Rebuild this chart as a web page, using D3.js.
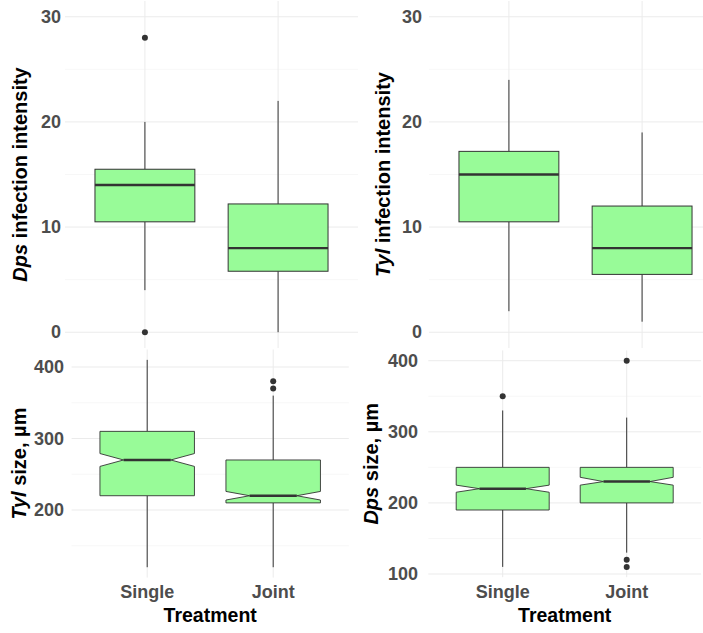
<!DOCTYPE html>
<html>
<head>
<meta charset="utf-8">
<script src="https://cdn.jsdelivr.net/npm/d3@7"></script>
<style>
  html, body { margin: 0; padding: 0; background: #fff; }
  svg { display: block; font-family: "Liberation Sans", Arial, sans-serif; }
</style>
</head>
<body>
<svg id="chart" width="703" height="633"></svg>
<script>
// ---------------- data ----------------
const categories = ["Single", "Joint"];

// [lower whisker, Q1, median, Q3, upper whisker] per category
const dpsIntensityBox = [[4, 10.5, 14, 15.5, 20], [0, 5.8, 8, 12.2, 22]];
const dpsIntensityOutliers = [[28, 0], []];

const tylIntensityBox = [[2, 10.5, 15, 17.2, 24], [1, 5.5, 8, 12, 19]];
const tylIntensityOutliers = [[], []];

const tylSizeBox = [[120, 220, 270, 310, 410], [120, 210, 220, 270, 360]];
const tylSizeNotch = [[261, 279], [214, 226]];
const tylSizeOutliers = [[], [370, 380]];

const dpsSizeBox = [[110, 190, 220, 250, 330], [130, 200, 230, 250, 320]];
const dpsSizeNotch = [[215, 225], [225, 236]];
const dpsSizeOutliers = [[350], [400, 120, 110]];

const intensityTicks = [0, 10, 20, 30];
const intensityMinor = [5, 15, 25];
const tylSizeTicks = [200, 300, 400];
const tylSizeMinor = [150, 250, 350];
const dpsSizeTicks = [100, 200, 300, 400];
const dpsSizeMinor = [150, 250, 350];

// ---------------- layout ----------------
const svg = d3.select("#chart");
const W = 703;
const fill = "#98FB98";
const ink = "#333333";

const panels = [
  { box: dpsIntensityBox, out: dpsIntensityOutliers, notch: null,
    ticks: intensityTicks, minor: intensityMinor, ydom: [-1.5, 31.5],
    x: [65, 358], y: [348, 1], labelRight: 61, titleX: 26.5,
    species: "Dps", rest: " infection intensity", xlabels: false },
  { box: tylIntensityBox, out: tylIntensityOutliers, notch: null,
    ticks: intensityTicks, minor: intensityMinor, ydom: [-1.5, 31.5],
    x: [429, 722], y: [348, 1], labelRight: 422, titleX: 389.5,
    species: "Tyl", rest: " infection intensity", xlabels: false },
  { box: tylSizeBox, out: tylSizeOutliers, notch: tylSizeNotch,
    ticks: tylSizeTicks, minor: tylSizeMinor, ydom: [105.5, 424.5],
    x: [71.6, 348.8], y: [577.6, 349.5], labelRight: 64, titleX: 25.5,
    species: "Tyl", rest: " size, µm", xlabels: true },
  { box: dpsSizeBox, out: dpsSizeOutliers, notch: dpsSizeNotch,
    ticks: dpsSizeTicks, minor: dpsSizeMinor, ydom: [95.5, 414.5],
    x: [428.3, 701.1], y: [577.2, 350.4], labelRight: 418, titleX: 377.5,
    species: "Dps", rest: " size, µm", xlabels: true }
];

panels.forEach((p, pi) => {
  const xc = d3.scaleLinear().domain([0.4, 2.6]).range(p.x);
  const y = d3.scaleLinear().domain(p.ydom).range(p.y);
  const g = svg.append("g");
  const gx0 = p.x[0], gx1 = Math.min(p.x[1], W);

  // minor grid
  g.selectAll(".minor").data(p.minor).enter().append("line")
    .attr("x1", gx0).attr("x2", gx1)
    .attr("y1", d => y(d)).attr("y2", d => y(d))
    .attr("stroke", "#f2f2f2").attr("stroke-width", 0.6);
  // major grid
  g.selectAll(".major").data(p.ticks).enter().append("line")
    .attr("x1", gx0).attr("x2", gx1)
    .attr("y1", d => y(d)).attr("y2", d => y(d))
    .attr("stroke", "#ebebeb").attr("stroke-width", 1);
  g.selectAll(".vgrid").data(categories).enter().append("line")
    .attr("x1", (d, i) => xc(i + 1)).attr("x2", (d, i) => xc(i + 1))
    .attr("y1", p.y[1]).attr("y2", p.y[0])
    .attr("stroke", "#ebebeb").attr("stroke-width", 1);

  // y axis labels
  const axis = d3.axisLeft(y).tickValues(p.ticks).tickSize(0).tickPadding(0);
  const ag = g.append("g").attr("transform", `translate(${p.labelRight},0)`).call(axis);
  ag.select(".domain").remove();
  ag.selectAll("text").attr("fill", "#4d4d4d").style("font-size", "18px")
    .style("font-weight", "bold").style("font-family", "'Liberation Sans', Arial, sans-serif");

  // y title
  const cy = (p.y[0] + p.y[1]) / 2;
  const t = g.append("text")
    .attr("transform", `translate(${p.titleX},${cy}) rotate(-90)`)
    .attr("text-anchor", "middle")
    .style("font-size", "20px").style("font-weight", "bold").attr("fill", "#000");
  t.append("tspan").style("font-style", "italic").text(p.species);
  t.append("tspan").text(p.rest);

  // boxes
  const bw = 0.75;
  categories.forEach((c, i) => {
    const [lo, q1, med, q3, hi] = p.box[i];
    const cx = xc(i + 1);
    const xl = xc(i + 1 - bw / 2), xr = xc(i + 1 + bw / 2);
    // whiskers
    g.append("line").attr("x1", cx).attr("x2", cx).attr("y1", y(hi)).attr("y2", y(q3))
      .attr("stroke", ink).attr("stroke-width", 1);
    g.append("line").attr("x1", cx).attr("x2", cx).attr("y1", y(q1)).attr("y2", y(lo))
      .attr("stroke", ink).attr("stroke-width", 1);
    let mx0 = xl, mx1 = xr;
    if (p.notch) {
      const [nl, nh] = p.notch[i];
      const nw = (xr - xl) * 0.25;
      const pts = [
        [xl, y(q1)], [xl, y(nl)], [xl + nw, y(med)], [xl, y(nh)], [xl, y(q3)],
        [xr, y(q3)], [xr, y(nh)], [xr - nw, y(med)], [xr, y(nl)], [xr, y(q1)]
      ];
      g.append("path").attr("d", d3.line()(pts) + "Z")
        .attr("fill", fill).attr("stroke", ink).attr("stroke-width", 0.9);
      mx0 = xl + nw; mx1 = xr - nw;
    } else {
      g.append("rect").attr("x", xl).attr("y", y(q3))
        .attr("width", xr - xl).attr("height", y(q1) - y(q3))
        .attr("fill", fill).attr("stroke", ink).attr("stroke-width", 1);
    }
    g.append("line").attr("x1", mx0).attr("x2", mx1).attr("y1", y(med)).attr("y2", y(med))
      .attr("stroke", ink).attr("stroke-width", 2.4);
    // outliers
    g.selectAll(null).data(p.out[i]).enter().append("circle")
      .attr("cx", cx).attr("cy", d => y(d)).attr("r", 3).attr("fill", ink);
  });

  // x labels
  if (p.xlabels) {
    categories.forEach((c, i) => {
      g.append("text").attr("x", xc(i + 1)).attr("y", 598)
        .attr("text-anchor", "middle").attr("fill", "#4d4d4d")
        .style("font-size", "18px").style("font-weight", "bold").text(c);
    });
    g.append("text").attr("x", (p.x[0] + p.x[1]) / 2).attr("y", 621.5)
      .attr("text-anchor", "middle").attr("fill", "#000")
      .style("font-size", "19.5px").style("font-weight", "bold").text("Treatment");
  }
});
</script>
</body>
</html>
